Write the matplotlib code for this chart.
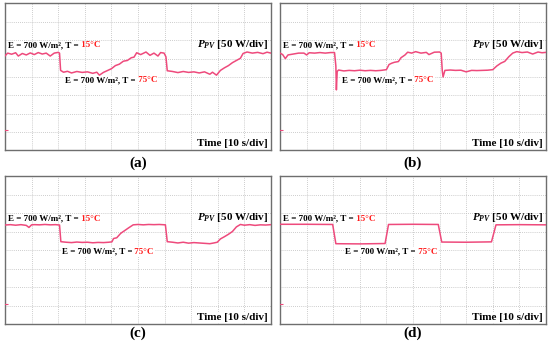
import matplotlib
matplotlib.use("Agg")
import matplotlib.pyplot as plt

plt.rcParams['font.family'] = ['Liberation Serif', 'DejaVu Serif']
plt.rcParams['mathtext.fontset'] = 'custom'
plt.rcParams['mathtext.rm'] = 'Liberation Serif:bold'
plt.rcParams['mathtext.it'] = 'Liberation Serif:italic:bold'
plt.rcParams['mathtext.bf'] = 'Liberation Serif:bold'

# ---- data (time in divisions, power in divisions from bottom) ----
t_a = [0.0, 0.1, 0.25, 0.4, 0.5, 0.65, 0.8, 0.95, 1.1, 1.25, 1.4, 1.55, 1.7, 1.85, 2.0, 2.05,
       2.09, 2.2, 2.35, 2.5, 2.7, 2.9, 3.1, 3.3, 3.45, 3.55, 3.7, 3.85, 4.0, 4.15, 4.3, 4.45,
       4.6, 4.75, 4.85, 4.95, 5.1, 5.3, 5.45, 5.6, 5.75, 5.85, 5.98, 6.05, 6.1, 6.3, 6.5,
       6.7, 6.9, 7.1, 7.3, 7.5, 7.7, 7.8, 7.95, 8.1, 8.25, 8.4, 8.55, 8.7, 8.85, 8.95, 9.1,
       9.3, 9.5, 9.7, 9.85, 10.0]
p_a = [5.15, 5.3, 5.24, 5.32, 5.14, 5.28, 5.2, 5.31, 5.22, 5.33, 5.25, 5.3, 5.14, 5.3, 5.34, 5.3,
       4.36, 4.26, 4.31, 4.22, 4.3, 4.25, 4.28, 4.2, 4.26, 4.1, 4.25, 4.35, 4.45, 4.62, 4.7, 4.86,
       4.9, 5.05, 5.08, 5.32, 5.22, 5.36, 5.18, 5.3, 5.14, 5.33, 5.3, 5.1, 4.34, 4.3, 4.24,
       4.3, 4.25, 4.28, 4.22, 4.28, 4.15, 4.26, 4.1, 4.36, 4.5, 4.62, 4.78, 4.9, 5.02, 5.28, 5.36,
       5.3, 5.34, 5.27, 5.35, 5.3]

t_b = [0.0, 0.1, 0.2, 0.3, 0.5, 0.7, 0.9, 1.0, 1.1, 1.3, 1.5, 1.7, 1.9, 2.05, 2.1, 2.12, 2.15,
       2.2, 2.4, 2.6, 2.8, 3.0, 3.2, 3.4, 3.6, 3.8, 4.0, 4.1, 4.2, 4.3, 4.45, 4.55, 4.7, 4.8,
       4.95, 5.1, 5.3, 5.5, 5.6, 5.8, 6.0, 6.06, 6.1, 6.13, 6.2, 6.4, 6.6, 6.8, 7.0, 7.2, 7.4,
       7.6, 7.8, 8.0, 8.15, 8.3, 8.45, 8.6, 8.75, 8.9, 9.1, 9.3, 9.5, 9.7, 9.85, 10.0]
p_b = [5.3, 5.22, 5.0, 5.2, 5.25, 5.3, 5.3, 5.2, 5.32, 5.3, 5.33, 5.3, 5.33, 5.33, 4.6, 3.3, 4.3,
       4.38, 4.33, 4.36, 4.34, 4.37, 4.34, 4.36, 4.34, 4.36, 4.4, 4.68, 4.75, 4.8, 4.84, 5.05, 5.2, 5.35,
       5.3, 5.38, 5.3, 5.34, 5.22, 5.35, 5.36, 5.3, 4.35, 4.0, 4.36, 4.38, 4.36, 4.37, 4.28, 4.36, 4.35,
       4.36, 4.37, 4.4, 4.6, 4.75, 4.85, 5.1, 5.3, 5.38, 5.33, 5.36, 5.25, 5.36, 5.32, 5.34]

t_c = [0.0, 0.2, 0.4, 0.6, 0.8, 0.9, 1.0, 1.1, 1.3, 1.5, 1.7, 1.9, 2.05, 2.1, 2.3, 2.5, 2.7,
       2.9, 3.1, 3.3, 3.5, 3.7, 3.9, 4.02, 4.08, 4.2, 4.35, 4.5, 4.65, 4.82, 5.0, 5.2, 5.4,
       5.6, 5.8, 6.03, 6.1, 6.3, 6.5, 6.7, 6.9, 7.1, 7.3, 7.5, 7.7, 7.85, 7.98, 8.1, 8.25,
       8.4, 8.55, 8.7, 8.85, 9.0, 9.2, 9.4, 9.6, 9.8, 10.0]
p_c = [5.35, 5.37, 5.34, 5.37, 5.33, 5.22, 5.36, 5.37, 5.36, 5.38, 5.36, 5.37, 5.35, 4.45, 4.42, 4.4, 4.43,
       4.41, 4.42, 4.39, 4.41, 4.4, 4.42, 4.44, 4.62, 4.66, 4.9, 5.05, 5.2, 5.36, 5.38, 5.36, 5.38,
       5.37, 5.38, 5.36, 4.45, 4.42, 4.38, 4.42, 4.37, 4.4, 4.38, 4.36, 4.34, 4.38, 4.42, 4.6, 4.72,
       4.85, 5.0, 5.25, 5.38, 5.34, 5.37, 5.33, 5.36, 5.35, 5.37]

t_d = [0.0, 1.0, 1.98, 2.1, 3.0, 3.95, 4.08, 5.0, 5.95, 6.08, 7.0, 7.95, 8.12, 9.0, 10.0]
p_d = [5.39, 5.39, 5.38, 4.34, 4.33, 4.35, 5.38, 5.39, 5.38, 4.43, 4.42, 4.44, 5.36, 5.37, 5.36]

panels = [
    ("(a)", t_a, p_a, 5.72, 2.26, 3.82),
    ("(b)", t_b, p_b, 5.72, 2.32, 3.82),
    ("(c)", t_c, p_c, 5.69, 2.13, 3.91),
    ("(d)", t_d, p_d, 5.69, 2.44, 3.91),
]

W, H = 550, 343
fig = plt.figure(figsize=(W / 100, H / 100), dpi=100)

# pixel boxes: (left, top, right, bottom)
boxes = [(5, 3.5, 271, 150.5), (280, 3.5, 546, 150.5),
         (5, 176, 271, 324), (280, 176, 546, 324)]
label_y = [163.5, 163.5, 333.3, 333.3]

sig_col = '#EE4A7C'
red = '#FF1A1A'

for (name, t, p, ey1, ex2, ey2), (l, tp, r, b), ly in zip(panels, boxes, label_y):
    ax = fig.add_axes([l / W, 1 - b / H, (r - l) / W, (b - tp) / H])
    ax.set_xlim(0, 10)
    ax.set_ylim(0, 8)
    ax.set_xticks([])
    ax.set_yticks([])
    for s in ax.spines.values():
        s.set_color('#6e6e6e')
        s.set_linewidth(1.0)
    for gx in range(1, 10):
        ax.axvline(gx, color='#bcbcbc', lw=0.6, ls=(0, (1, 1.5)), zorder=0)
    for gy in range(1, 8):
        ax.axhline(gy, color='#bcbcbc', lw=0.6, ls=(0, (1, 1.5)), zorder=0)
    ax.plot(t, p, color=sig_col, lw=1.1, zorder=3)
    ax.plot([0.03], [1.1], marker='_', color=sig_col, ms=3, mew=0.8, zorder=3)

    t1 = ax.text(0.11, ey1, "E = 700 W/m², T =", fontsize=6.5, fontweight='bold',
                 va='center', ha='left', zorder=4)
    ax.annotate(" 15°C", xy=(1, 0.5), xycoords=t1, va='center', ha='left',
                fontsize=6.5, fontweight='bold', color=red, zorder=4)
    t2 = ax.text(ex2, ey2, "E = 700 W/m², T =", fontsize=6.5, fontweight='bold',
                 va='center', ha='left', zorder=4,
                 bbox=dict(facecolor='white', edgecolor='none', pad=0.5))
    ax.annotate(" 75°C", xy=(1, 0.5), xycoords=t2, va='center', ha='left',
                fontsize=6.5, fontweight='bold', color=red, zorder=4,
                bbox=dict(facecolor='white', edgecolor='none', pad=0.5))
    ax.text(9.89, ey1 + 0.05, r"$P_{PV}$ [50 W/div]", fontsize=8, fontweight='bold',
            va='center', ha='right', zorder=4)
    ax.text(9.89, 0.36, "Time [10 s/div]", fontsize=8, fontweight='bold',
            va='center', ha='right', zorder=4,
            bbox=dict(facecolor='white', edgecolor='none', pad=0.5))

    fig.text((l + r) / 2 / W, 1 - ly / H, name, fontsize=11, fontweight='bold',
             ha='center', va='center')

fig.savefig("out.png", dpi=100)
